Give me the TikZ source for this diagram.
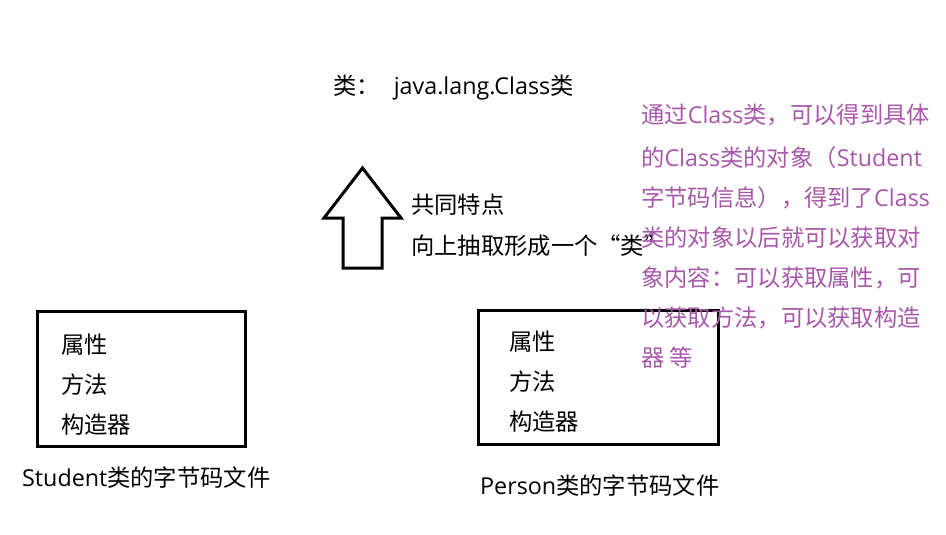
\documentclass[tikz,border=0pt]{standalone}
\usepackage{fontspec}
\setmainfont{Noto Sans CJK SC}
\newfontfamily\latfont{Open Sans}
\newcommand{\lat}[1]{{\latfont #1}}
\definecolor{notepurple}{RGB}{168,88,170}
\begin{document}
\begin{tikzpicture}[x=1pt,y=-1pt,
  txt/.style={anchor=base west,inner sep=0pt,font=\fontsize{23.3}{27}\selectfont},
  note/.style={txt,text=notepurple},
  bytebox/.style={draw=black,line width=3pt}]
\useasboundingbox[fill=white] (0,0) rectangle (946,535);
% title
\node[txt] (title) at (333,95) {类：\hspace{14pt}\lat{java.lang.Class}类};
% block arrow
\draw[line width=3pt,line join=miter,fill=white] (343,268) -- (343,218) -- (324,218) -- (362.5,168) -- (401,218) -- (382,218) -- (382,268) -- cycle;
\node[txt] (feat1) at (411,213) {共同特点};
\node[txt] (feat2) at (411,254) {向上抽取形成一个“类”};
% boxes
\draw[bytebox] (37,311) rectangle (245,446);
\node[txt] (s1) at (61,353) {属性};
\node[txt] (s2) at (61,393) {方法};
\node[txt] (s3) at (61,433) {构造器};
\node[txt] (slabel) at (22,486) {\lat{Student}类的字节码文件};
\draw[bytebox] (478,310) rectangle (718,444);
\node[txt] (p1) at (509,350) {属性};
\node[txt] (p2) at (509,390) {方法};
\node[txt] (p3) at (509,430) {构造器};
\node[txt] (plabel) at (480,494) {\lat{Person}类的字节码文件};
% note
\node[note] (n1) at (641,124) {通过\lat{Class}类，可以得到具体};
\node[note] (n2) at (641,166) {的\lat{Class}类的对象（\lat{Student}};
\node[note] (n3) at (641,206) {字节码信息），得到了\lat{Class}};
\node[note] (n4) at (641,246) {类的对象以后就可以获取对};
\node[note] (n5) at (641,286) {象内容：可以获取属性，可};
\node[note] (n6) at (641,326) {以获取方法，可以获取构造};
\node[note] (n7) at (641,366) {器 等};
\end{tikzpicture}
\end{document}
